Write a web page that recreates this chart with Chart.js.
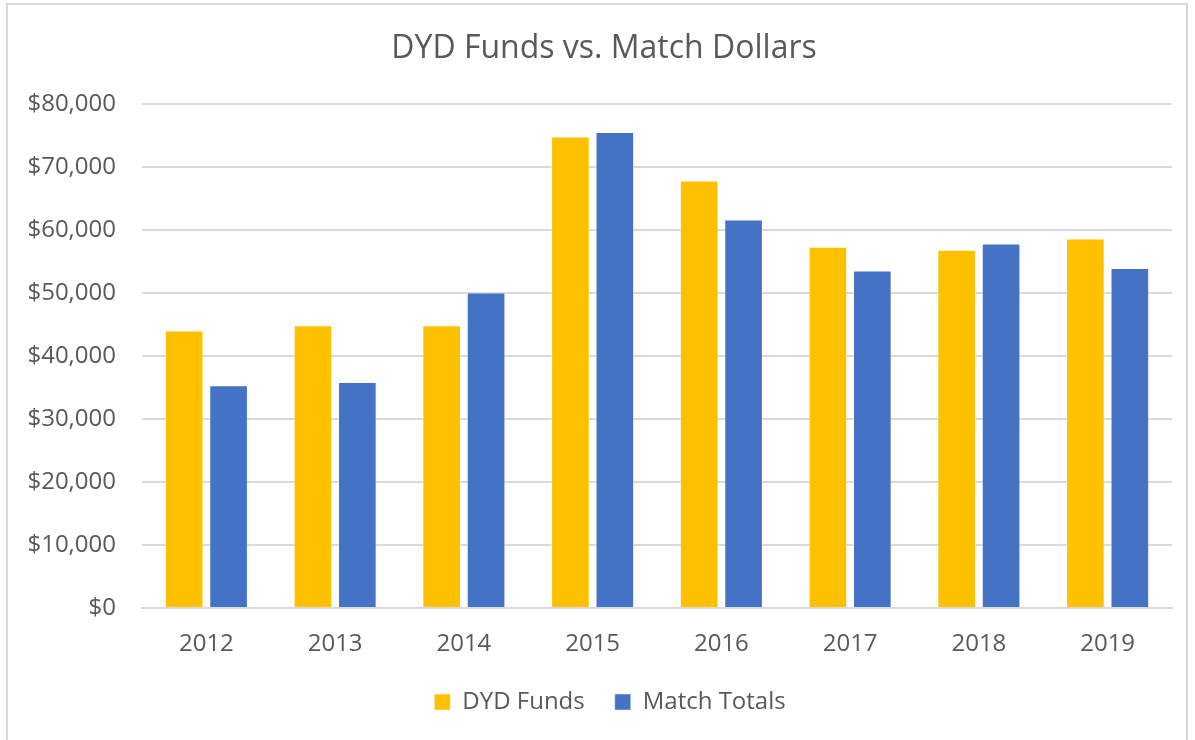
<!DOCTYPE html>
<html>
<head>
<meta charset="utf-8">
<script src="https://cdn.jsdelivr.net/npm/chart.js@4"></script>
<style>
  html, body { margin: 0; padding: 0; background: #fff; }
  #frame {
    position: absolute; left: 6px; top: 3px; width: 1182px; height: 760px;
    border: 2px solid #d9d9d9; box-sizing: border-box;
  }
  #wrap { position: absolute; left: 0; top: 0; width: 1195px; height: 740px; }
</style>
</head>
<body>
<div id="frame"></div>
<div id="wrap"><canvas id="chart" width="1195" height="740"></canvas></div>
<script>
// Values
const years = ['2012', '2013', '2014', '2015', '2016', '2017', '2018', '2019'];
const dydFunds = [44100, 44900, 44900, 74900, 67900, 57400, 56900, 58700];
const matchTotals = [35400, 35900, 50100, 75600, 61700, 53600, 57900, 54000];
const yTicks = [0, 10000, 20000, 30000, 40000, 50000, 60000, 70000, 80000];

const textColor = '#595959';
const fontFamily = "'Open Sans', sans-serif";

// Excel centres title and legend on the frame, not the plot area; nudge them right
const nudgeBoxes = {
  id: 'nudgeBoxes',
  afterLayout(chart) {
    const shift = (box, dx) => { if (box) { box.left += dx; box.right += dx; } };
    shift(chart.titleBlock, 18);
    shift(chart.legend, 24);
  },
};

new Chart(document.getElementById('chart'), {
  type: 'bar',
  data: {
    labels: years,
    datasets: [
      {
        label: 'DYD Funds',
        data: dydFunds,
        backgroundColor: '#FFC000',
        borderColor: 'rgba(255,255,255,0.45)',
        borderWidth: 1,
        barPercentage: 0.87,
        categoryPercentage: 0.69,
      },
      {
        label: 'Match Totals',
        data: matchTotals,
        backgroundColor: '#4472C4',
        borderColor: 'rgba(255,255,255,0.45)',
        borderWidth: 1,
        barPercentage: 0.87,
        categoryPercentage: 0.69,
      },
    ],
  },
  plugins: [nudgeBoxes],
  options: {
    responsive: false,
    animation: false,
    layout: { padding: { left: 0, right: 23, top: 14, bottom: 16 } },
    plugins: {
      title: {
        display: true,
        text: 'DYD Funds vs. Match Dollars',
        color: textColor,
        font: { family: fontFamily, size: 32, weight: 'normal' },
        padding: { top: 16, bottom: 36 },
      },
      legend: {
        position: 'bottom',
        labels: {
          color: textColor,
          font: { family: fontFamily, size: 24 },
          boxWidth: 16,
          boxHeight: 16,
          padding: 30,
        },
      },
      tooltip: { enabled: false },
    },
    scales: {
      x: {
        afterFit: (scale) => { scale.height = 52; },
        grid: { display: false, drawTicks: false },
        border: { color: '#d9d9d9', width: 2 },
        ticks: {
          color: textColor,
          font: { family: fontFamily, size: 24 },
          padding: 22,
        },
      },
      y: {
        min: 0,
        max: 80000,
        afterBuildTicks: (scale) => { scale.ticks = yTicks.map(v => ({ value: v })); },
        afterFit: (scale) => { scale.width = 142; },
        grid: { color: '#d9d9d9', lineWidth: 2, drawTicks: false },
        border: { display: false },
        ticks: {
          color: textColor,
          font: { family: fontFamily, size: 24 },
          padding: 26,
          callback: (v) => '$' + Number(v).toLocaleString('en-US'),
        },
      },
    },
  },
});
</script>
</body>
</html>
